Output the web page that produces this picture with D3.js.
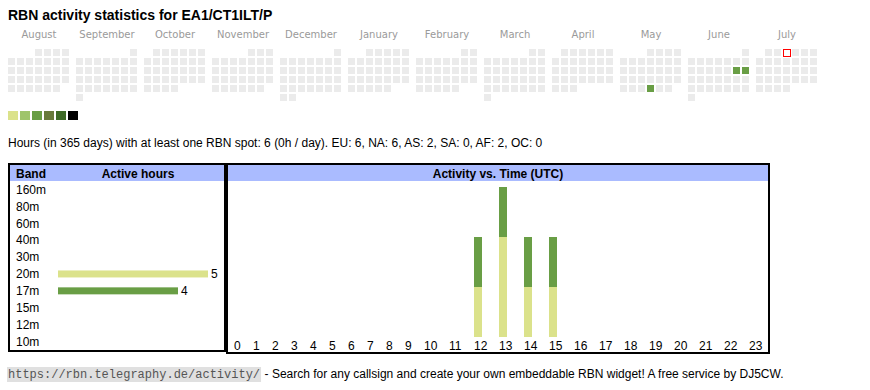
<!DOCTYPE html>
<html>
<head>
<meta charset="utf-8">
<script src="https://cdn.jsdelivr.net/npm/d3@7"></script>
<style>
  html, body { margin: 0; padding: 0; background: #fff; }
  svg { display: block; }
</style>
</head>
<body>
<svg id="chart" width="870" height="390"></svg>
<script>
// ---------------- data ----------------
const title = "RBN activity statistics for EA1/CT1ILT/P";
const monthNames = ["August", "September", "October", "November", "December", "January",
                    "February", "March", "April", "May", "June", "July"];
const monthStarts = ["2024-08-01", "2024-09-01", "2024-10-01", "2024-11-01", "2024-12-01", "2025-01-01",
                     "2025-02-01", "2025-03-01", "2025-04-01", "2025-05-01", "2025-06-01", "2025-07-01"];
const activeDays = ["2025-05-29", "2025-06-14", "2025-06-15"];
const activeDayLevels = [2, 2, 2];
const today = "2025-07-03";
const legendColors = ["#dbe28b", "#9fc46b", "#699e45", "#687a3b", "#3e6a27", "#000000"];
const summaryText = "Hours (in 365 days) with at least one RBN spot: 6 (0h / day). EU: 6, NA: 6, AS: 2, SA: 0, AF: 2, OC: 0";

const bands = ["160m", "80m", "60m", "40m", "30m", "20m", "17m", "15m", "12m", "10m"];
const bandHours = [0, 0, 0, 0, 0, 5, 4, 0, 0, 0];
const bandColors = ["#7a3b2e", "#c05a2a", "#e08a2a", "#e8c33a", "#b9c94a", "#dbe28b", "#699e45", "#3e8a7a", "#3a6aa8", "#6a4aa8"];

const hourLabels = ["0","1","2","3","4","5","6","7","8","9","10","11","12","13","14","15","16","17","18","19","20","21","22","23"];
const hours20m = [0,0,0,0,0,0,0,0,0,0,0,0,1,2,1,1,0,0,0,0,0,0,0,0];
const hours17m = [0,0,0,0,0,0,0,0,0,0,0,0,1,1,1,1,0,0,0,0,0,0,0,0];

const footerUrl = "https://rbn.telegraphy.de/activity/";
const footerText = "- Search for any callsign and create your own embeddable RBN widget! A free service by DJ5CW.";

// ---------------- drawing ----------------
const svg = d3.select("#chart");
const sans = "'Liberation Sans', Arial, sans-serif";

svg.append("text").attr("x", 8).attr("y", 20)
  .attr("font-family", sans).attr("font-size", 14).attr("font-weight", "bold")
  .attr("fill", "#000").text(title);

// calendar heatmap
const monthX = d3.scaleLinear().domain([0, 11]).range([8, 756]);
const cellX = d3.scaleLinear().domain([0, 1]).range([0, 9]);
const cellY = d3.scaleLinear().domain([0, 1]).range([49, 58]);
const parse = d3.utcParse("%Y-%m-%d");
const fmt = d3.utcFormat("%Y-%m-%d");
const activeMap = new Map(activeDays.map((d, i) => [d, activeDayLevels[i]]));

const cal = svg.append("g");
monthNames.forEach((name, m) => {
  const start = parse(monthStarts[m]);
  const end = d3.utcMonth.offset(start, 1);
  const days = d3.utcDay.range(start, end);
  const offset = (start.getUTCDay() + 6) % 7;
  const x0 = monthX(m);
  cal.append("text")
    .attr("x", x0 + 31).attr("y", 38)
    .attr("text-anchor", "middle")
    .attr("font-family", "'DejaVu Sans', Verdana, sans-serif").attr("font-size", 10)
    .attr("fill", "#9a9a9a").text(name);
  cal.selectAll(null).data(days).enter().append("rect")
    .each(function (d) {
      const idx = offset + d.getUTCDate() - 1;
      const key = fmt(d);
      const sel = d3.select(this)
        .attr("x", x0 + cellX(idx % 7)).attr("y", cellY(Math.floor(idx / 7)))
        .attr("width", 7).attr("height", 7)
        .attr("fill", activeMap.has(key) ? legendColors[activeMap.get(key)] : "#ebebeb");
      if (key === today) {
        sel.attr("x", x0 + cellX(idx % 7) + 0.5).attr("y", cellY(Math.floor(idx / 7)) + 0.5)
          .attr("width", 7).attr("height", 7)
          .attr("fill", "#ffffff").attr("stroke", "#ff0000").attr("stroke-width", 1);
      }
    });
});

// legend
const legX = d3.scaleLinear().domain([0, 1]).range([8, 20]);
svg.selectAll(".leg").data(legendColors).enter().append("rect")
  .attr("x", (d, i) => legX(i)).attr("y", 111)
  .attr("width", 10).attr("height", 9).attr("fill", d => d);

svg.append("text").attr("x", 8).attr("y", 146.5)
  .attr("font-family", sans).attr("font-size", 12).attr("fill", "#000").text(summaryText);

// ---------------- band table ----------------
const bandY = d3.scaleBand().domain(bands).range([181, 350]);
const hourX = d3.scaleLinear().domain([0, 5]).range([58, 208]);

svg.append("rect").attr("x", 10).attr("y", 165).attr("width", 214).attr("height", 16).attr("fill", "#aabbff");
svg.append("text").attr("x", 16).attr("y", 177.5).attr("font-family", sans).attr("font-size", 12)
  .attr("font-weight", "bold").text("Band");
svg.append("text").attr("x", 138).attr("y", 177.5).attr("text-anchor", "middle").attr("font-family", sans)
  .attr("font-size", 12).attr("font-weight", "bold").text("Active hours");

const bandRows = svg.append("g");
bands.forEach((b, i) => {
  const cy = bandY(b) + bandY.bandwidth() / 2;
  bandRows.append("text").attr("x", 16).attr("y", cy + 4.3)
    .attr("font-family", sans).attr("font-size", 12).attr("fill", "#000").text(b);
  if (bandHours[i] > 0) {
    bandRows.append("rect").attr("x", hourX(0)).attr("y", cy - 3.5)
      .attr("width", hourX(bandHours[i]) - hourX(0)).attr("height", 7).attr("fill", bandColors[i]);
    bandRows.append("text").attr("x", hourX(bandHours[i]) + 3).attr("y", cy + 4.3)
      .attr("font-family", sans).attr("font-size", 12).attr("fill", "#000").text(bandHours[i]);
  }
});
svg.append("rect").attr("x", 9).attr("y", 164).attr("width", 216).attr("height", 187)
  .attr("fill", "none").attr("stroke", "#000").attr("stroke-width", 2);

// ---------------- activity vs time ----------------
const colStarts = [];
let acc = 228;
hourLabels.forEach(l => { colStarts.push(acc); acc += 13 + 6 * l.length; });
const timeX = d3.scaleOrdinal().domain(hourLabels).range(colStarts);
const timeY = d3.scaleLinear().domain([0, 3]).range([337, 187]);

svg.append("rect").attr("x", 228).attr("y", 165).attr("width", 540).attr("height", 16).attr("fill", "#aabbff");
svg.append("text").attr("x", 498).attr("y", 177.5).attr("text-anchor", "middle").attr("font-family", sans)
  .attr("font-size", 12).attr("font-weight", "bold").text("Activity vs. Time (UTC)");

const stackData = hourLabels.map((h, i) => ({ hour: h, b20: hours20m[i], b17: hours17m[i] }));
const series = d3.stack().keys(["b20", "b17"])(stackData);
const seriesColors = { b20: bandColors[bands.indexOf("20m")], b17: bandColors[bands.indexOf("17m")] };

svg.append("g").selectAll("g").data(series).enter().append("g")
  .attr("fill", d => seriesColors[d.key])
  .selectAll("rect").data(d => d.filter(p => p[1] > p[0])).enter().append("rect")
  .attr("x", d => timeX(d.data.hour) + 6)
  .attr("y", d => timeY(d[1]))
  .attr("width", 8)
  .attr("height", d => timeY(d[0]) - timeY(d[1]));

svg.append("g").selectAll("text").data(hourLabels).enter().append("text")
  .attr("x", d => timeX(d) + 6).attr("y", 349.5)
  .attr("font-family", sans).attr("font-size", 12).attr("fill", "#000").text(d => d);

svg.append("rect").attr("x", 227).attr("y", 164).attr("width", 542).attr("height", 189)
  .attr("fill", "none").attr("stroke", "#000").attr("stroke-width", 2);

// ---------------- footer ----------------
const footer = svg.append("g");
const urlBg = footer.append("rect").attr("x", 7).attr("y", 367).attr("height", 15).attr("fill", "#e0e0e0");
const urlText = footer.append("text").attr("x", 8).attr("y", 378)
  .attr("font-family", "'Liberation Mono', 'Courier New', monospace").attr("font-size", 12)
  .attr("fill", "#555").text(footerUrl);
const uw = urlText.node().getComputedTextLength();
urlBg.attr("width", uw + 2);
footer.append("text").attr("x", 8 + uw + 4.5).attr("y", 378)
  .attr("font-family", sans).attr("font-size", 12).attr("fill", "#000").text(footerText);
</script>
</body>
</html>
